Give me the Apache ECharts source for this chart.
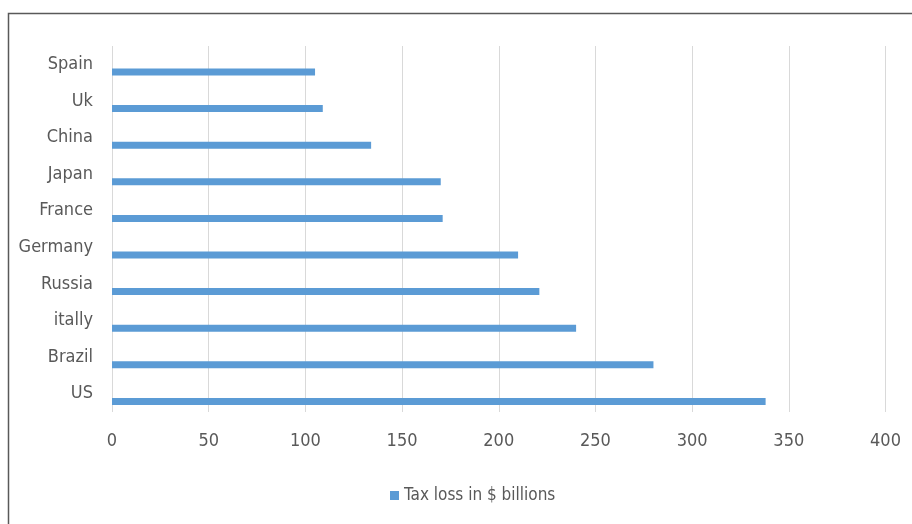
<!DOCTYPE html>
<html>
<head>
<meta charset="utf-8">
<script src="https://cdn.jsdelivr.net/npm/echarts@6/dist/echarts.min.js"></script>
<style>
  html, body { margin: 0; padding: 0; background: #fff; }
  #chart { width: 912px; height: 524px; }
</style>
</head>
<body>
<div id="chart"></div>
<script>
// top to bottom, as in the picture
const countries = ["Spain", "Uk", "China", "Japan", "France", "Germany", "Russia", "itally", "Brazil", "US"]
const taxLoss = [105, 109, 134, 170, 171, 210, 221, 240, 280, 338]
const seriesName = "Tax loss in $ billions"

const font = "'Liberation Sans Narrow', 'DejaVu Sans Condensed', sans-serif"

let myChart = echarts.init(document.getElementById("chart"))
myChart.setOption({
  animation: false,
  graphic: [
    {
      type: "rect",
      shape: { x: 8.5, y: 13.5, width: 920, height: 530 },
      style: { fill: "none", stroke: "#595959", lineWidth: 1.5 },
    },
  ],
  grid: {
    left: 112,
    right: 26.5,
    top: 46,
    bottom: 112,
  },
  xAxis: {
    type: "value",
    min: 0,
    max: 400,
    interval: 50,
    axisLine: { show: false },
    axisTick: { show: false },
    axisLabel: {
      color: "#595959",
      fontFamily: font,
      fontSize: 18,
      margin: 20,
    },
    splitLine: {
      lineStyle: { color: "#d9d9d9", width: 1 },
    },
  },
  yAxis: {
    type: "category",
    inverse: true,
    data: countries,
    axisLine: { show: false },
    axisTick: { show: false },
    axisLabel: {
      color: "#595959",
      fontFamily: font,
      fontSize: 18,
      margin: 19,
    },
  },
  legend: {
    data: [seriesName],
    left: 385,
    top: 482,
    icon: "rect",
    itemWidth: 9,
    itemHeight: 9,
    itemGap: 5,
    textStyle: {
      color: "#595959",
      fontFamily: font,
      fontSize: 17,
    },
  },
  series: [
    {
      name: "spacer",
      type: "bar",
      data: [],
      barWidth: 7,
      barGap: "120%",
    },
    {
      name: seriesName,
      type: "bar",
      data: taxLoss,
      barWidth: 7,
      barGap: "120%",
      itemStyle: { color: "#5b9bd5" },
    },
  ],
})
</script>
</body>
</html>
